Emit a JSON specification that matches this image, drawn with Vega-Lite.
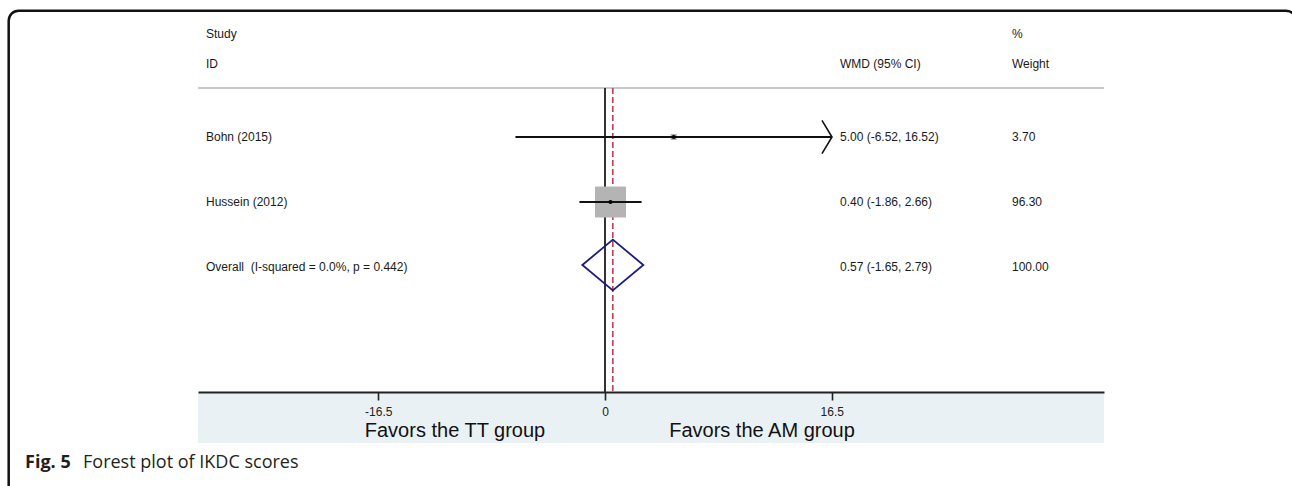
{
  "$schema": "https://vega.github.io/schema/vega-lite/v6.json",
  "width": 906,
  "height": 304,
  "autosize": {"type": "none"},
  "padding": {"left": 198, "top": 88, "right": 188, "bottom": 94},
  "background": "white",
  "config": {"view": {"stroke": null}, "text": {"font": "Liberation Sans"}},
  "data": {
    "values": [
      {"row": 1, "study": "Bohn (2015)", "type": "study", "est": 5.0, "lo": -6.52, "hi": 16.52, "weight": 3.7, "ci": "5.00 (-6.52, 16.52)", "wt": "3.70"},
      {"row": 2, "study": "Hussein (2012)", "type": "study", "est": 0.4, "lo": -1.86, "hi": 2.66, "weight": 96.3, "ci": "0.40 (-1.86, 2.66)", "wt": "96.30"},
      {"row": 3, "study": "Overall \u00a0(I-squared = 0.0%, p = 0.442)", "type": "overall", "est": 0.57, "lo": -1.65, "hi": 2.79, "weight": 100, "ci": "0.57 (-1.65, 2.79)", "wt": "100.00"}
    ]
  },
  "layer": [
    {
      "data": {"values": [{}]},
      "mark": {"type": "rect", "fillOpacity": 0, "stroke": "#111111", "strokeWidth": 2.5, "cornerRadius": 10},
      "encoding": {
        "x": {"datum": -43.4, "type": "quantitative", "scale": {"domain": [-29.622, 36.317], "nice": false, "zero": false},
              "axis": {"values": [-16.5, 0, 16.5], "labelExpr": "toString(datum.value)", "title": null, "grid": false, "zindex": 1,
                       "domainColor": "#222222", "domainWidth": 1.8, "tickColor": "#222222", "tickWidth": 1.6, "tickSize": 8,
                       "labelFont": "Liberation Sans", "labelFontSize": 12, "labelColor": "#222222", "labelPadding": 6}},
        "x2": {"datum": 50.29},
        "y": {"datum": -0.943, "type": "quantitative", "scale": {"domain": [0.2462, 4.923], "nice": false, "zero": false, "reverse": true}, "axis": null},
        "y2": {"datum": 6.585}
      }
    },
    {
      "data": {"values": [{}]},
      "mark": {"type": "rect", "color": "#e9f1f4"},
      "encoding": {
        "x": {"datum": -29.622, "type": "quantitative"},
        "x2": {"datum": 36.317},
        "y": {"datum": 4.938, "type": "quantitative"},
        "y2": {"datum": 5.708}
      }
    },
    {
      "data": {"values": [{}]},
      "mark": {"type": "rule", "color": "#c8c8c8", "strokeWidth": 2},
      "encoding": {"y": {"datum": 0.2462, "type": "quantitative"}}
    },
    {
      "data": {"values": [{}]},
      "mark": {"type": "rule", "color": "#333333", "strokeWidth": 2},
      "encoding": {"x": {"datum": 0, "type": "quantitative"}}
    },
    {
      "transform": [{"filter": "datum.type == 'overall'"}],
      "mark": {"type": "rule", "color": "#c0304a", "strokeWidth": 1.5, "strokeDash": [6, 3]},
      "encoding": {"x": {"field": "est", "type": "quantitative"}}
    },
    {
      "transform": [{"filter": "datum.type == 'study'"}],
      "mark": {"type": "point", "shape": "square", "filled": true, "color": "#b4b4b4", "opacity": 1},
      "encoding": {
        "x": {"field": "est", "type": "quantitative"},
        "y": {"field": "row", "type": "quantitative"},
        "size": {"field": "weight", "type": "quantitative", "scale": {"type": "linear", "domain": [0, 96.3], "range": [0, 961]}, "legend": null}
      }
    },
    {
      "transform": [{"filter": "datum.type == 'study'"}],
      "mark": {"type": "rule", "color": "#111111", "strokeWidth": 1.8},
      "encoding": {
        "x": {"field": "lo", "type": "quantitative"},
        "x2": {"field": "hi"},
        "y": {"field": "row", "type": "quantitative"}
      }
    },
    {
      "transform": [{"filter": "datum.type == 'study'"}],
      "mark": {"type": "point", "shape": "circle", "filled": true, "color": "#000000", "opacity": 1, "size": 18},
      "encoding": {
        "x": {"field": "est", "type": "quantitative"},
        "y": {"field": "row", "type": "quantitative"}
      }
    },
    {
      "transform": [{"filter": "datum.type == 'study' && datum.hi > 16.5"}],
      "mark": {"type": "point", "shape": "M-0.6,-1L0,0L-0.6,1", "filled": false, "color": "#111111", "opacity": 1, "strokeWidth": 1.6, "size": 1115},
      "encoding": {
        "x": {"field": "hi", "type": "quantitative"},
        "y": {"field": "row", "type": "quantitative"}
      }
    },
    {
      "transform": [{"filter": "datum.type == 'overall'"}],
      "mark": {"type": "point", "shape": "M-1,0L0,-0.833L1,0L0,0.833Z", "filled": false, "color": "#1c1c80", "opacity": 1, "strokeWidth": 1.8, "size": 3721, "yOffset": -2},
      "encoding": {
        "x": {"field": "est", "type": "quantitative"},
        "y": {"field": "row", "type": "quantitative"}
      }
    },
    {
      "mark": {"type": "text", "align": "left", "baseline": "middle", "fontSize": 12, "color": "#1a1a1a"},
      "encoding": {
        "x": {"datum": -29.04, "type": "quantitative"},
        "y": {"field": "row", "type": "quantitative"},
        "text": {"field": "study"}
      }
    },
    {
      "mark": {"type": "text", "align": "left", "baseline": "middle", "fontSize": 12, "color": "#1a1a1a"},
      "encoding": {
        "x": {"datum": 17.1, "type": "quantitative"},
        "y": {"field": "row", "type": "quantitative"},
        "text": {"field": "ci"}
      }
    },
    {
      "mark": {"type": "text", "align": "left", "baseline": "middle", "fontSize": 12, "color": "#1a1a1a"},
      "encoding": {
        "x": {"datum": 29.62, "type": "quantitative"},
        "y": {"field": "row", "type": "quantitative"},
        "text": {"field": "wt"}
      }
    },
    {
      "data": {"values": [{}]},
      "mark": {"type": "text", "align": "left", "baseline": "middle", "fontSize": 12, "color": "#1a1a1a"},
      "encoding": {"x": {"datum": -29.04, "type": "quantitative"}, "y": {"datum": -0.585, "type": "quantitative"}, "text": {"value": "Study"}}
    },
    {
      "data": {"values": [{}]},
      "mark": {"type": "text", "align": "left", "baseline": "middle", "fontSize": 12, "color": "#1a1a1a"},
      "encoding": {"x": {"datum": -29.04, "type": "quantitative"}, "y": {"datum": -0.123, "type": "quantitative"}, "text": {"value": "ID"}}
    },
    {
      "data": {"values": [{}]},
      "mark": {"type": "text", "align": "left", "baseline": "middle", "fontSize": 12, "color": "#1a1a1a"},
      "encoding": {"x": {"datum": 17.1, "type": "quantitative"}, "y": {"datum": -0.123, "type": "quantitative"}, "text": {"value": "WMD (95% CI)"}}
    },
    {
      "data": {"values": [{}]},
      "mark": {"type": "text", "align": "left", "baseline": "middle", "fontSize": 12, "color": "#1a1a1a"},
      "encoding": {"x": {"datum": 29.62, "type": "quantitative"}, "y": {"datum": -0.585, "type": "quantitative"}, "text": {"value": "%"}}
    },
    {
      "data": {"values": [{}]},
      "mark": {"type": "text", "align": "left", "baseline": "middle", "fontSize": 12, "color": "#1a1a1a"},
      "encoding": {"x": {"datum": 29.62, "type": "quantitative"}, "y": {"datum": -0.123, "type": "quantitative"}, "text": {"value": "Weight"}}
    },
    {
      "data": {"values": [{}]},
      "mark": {"type": "text", "align": "center", "baseline": "alphabetic", "fontSize": 20, "color": "#111111"},
      "encoding": {"x": {"datum": -10.917, "type": "quantitative"}, "y": {"datum": 5.615, "type": "quantitative"}, "text": {"value": "Favors the TT group"}}
    },
    {
      "data": {"values": [{}]},
      "mark": {"type": "text", "align": "center", "baseline": "alphabetic", "fontSize": 20, "color": "#111111"},
      "encoding": {"x": {"datum": 11.427, "type": "quantitative"}, "y": {"datum": 5.615, "type": "quantitative"}, "text": {"value": "Favors the AM group"}}
    },
    {
      "data": {"values": [{}]},
      "mark": {"type": "text", "align": "left", "baseline": "alphabetic", "fontSize": 18, "font": "Open Sans", "fontWeight": "bold", "color": "#231f20"},
      "encoding": {"x": {"datum": -42.21, "type": "quantitative"}, "y": {"datum": 6.092, "type": "quantitative"}, "text": {"value": "Fig. 5"}}
    },
    {
      "data": {"values": [{}]},
      "mark": {"type": "text", "align": "left", "baseline": "alphabetic", "fontSize": 18, "font": "Open Sans", "color": "#231f20"},
      "encoding": {"x": {"datum": -37.99, "type": "quantitative"}, "y": {"datum": 6.092, "type": "quantitative"}, "text": {"value": "Forest plot of IKDC scores"}}
    }
  ]
}
